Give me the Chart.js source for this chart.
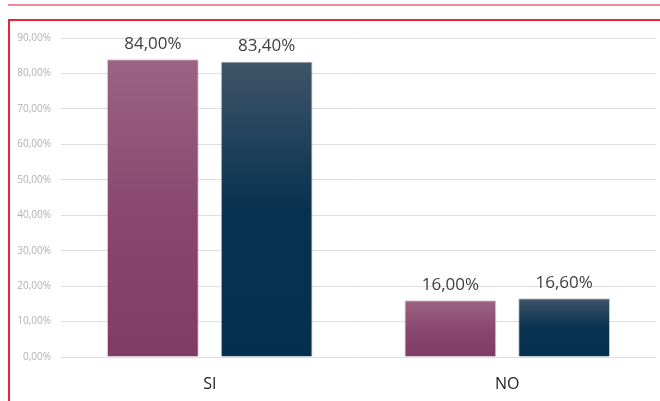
<!DOCTYPE html>
<html>
<head>
<meta charset="utf-8">
<script src="https://cdn.jsdelivr.net/npm/chart.js@4"></script>
<style>
  html, body { margin: 0; padding: 0; background: #fff; }
  #wrap { position: relative; width: 660px; height: 401px; overflow: hidden; }
  #topline { position: absolute; left: 8px; top: 4px; width: 652px; height: 2px; background: #ee8a98; }
  #frame { position: absolute; left: 8px; top: 19px; width: 660px; height: 400px;
           border-top: 2px solid #e8243c; border-left: 2px solid #e8243c; box-sizing: border-box; }
  canvas { position: absolute; left: 0; top: 0; }
</style>
</head>
<body>
<div id="wrap">
  <div id="topline"></div>
  <div id="frame"></div>
  <canvas id="c" width="660" height="401"></canvas>
</div>
<script>
// Categories and the two answer series (percent)
const categories = ['SI', 'NO'];
const seriesA = [84.00, 16.00];
const seriesB = [83.40, 16.60];
const tickValues = [0, 10, 20, 30, 40, 50, 60, 70, 80, 90];

const fmt = v => v.toFixed(2).replace('.', ',') + '%';

// Vertical gradient spanning each bar from its top to the baseline
function barGradient(top, mid, bottom) {
  return ctx => {
    const chart = ctx.chart;
    const ys = chart.scales.y;
    if (!ys || !ctx.parsed) return bottom;
    const yTop = ys.getPixelForValue(ctx.parsed.y);
    const yBase = ys.getPixelForValue(0);
    if (!isFinite(yTop) || !isFinite(yBase) || yTop === yBase) return bottom;
    const g = chart.ctx.createLinearGradient(0, yTop, 0, yBase);
    g.addColorStop(0, top);
    g.addColorStop(0.5, mid);
    g.addColorStop(1, bottom);
    return g;
  };
}

// Value labels above every bar
const valueLabels = {
  id: 'valueLabels',
  afterDatasetsDraw(chart) {
    const c = chart.ctx;
    c.save();
    c.font = '17px "Open Sans", sans-serif';
    c.fillStyle = '#404040';
    c.textAlign = 'center';
    c.textBaseline = 'alphabetic';
    chart.data.datasets.forEach((ds, i) => {
      chart.getDatasetMeta(i).data.forEach((bar, j) => {
        c.fillText(fmt(ds.data[j]), bar.x, bar.y - 10);
      });
    });
    c.restore();
  }
};

new Chart(document.getElementById('c'), {
  type: 'bar',
  data: {
    labels: categories,
    datasets: [
      {
        data: seriesA,
        backgroundColor: barGradient('#9c6383', '#8a4870', '#7f3c65'),
        borderColor: 'rgba(90,60,80,0.25)',
        borderWidth: 1,
        categoryPercentage: 0.765,
        barPercentage: 0.807
      },
      {
        data: seriesB,
        backgroundColor: barGradient('#405569', '#07324f', '#04304f'),
        borderColor: 'rgba(40,50,60,0.25)',
        borderWidth: 1,
        categoryPercentage: 0.765,
        barPercentage: 0.807
      }
    ]
  },
  options: {
    responsive: false,
    animation: false,
    layout: { padding: { top: 38, right: 4, left: 0, bottom: 0 } },
    plugins: { legend: { display: false }, tooltip: { enabled: false } },
    scales: {
      x: {
        grid: { display: false, drawTicks: false },
        border: { display: false },
        ticks: { padding: 18, color: '#222', font: { family: '"Open Sans", sans-serif', size: 16 } },
        afterFit: s => { s.height = 44; }
      },
      y: {
        min: 0, max: 90,
        afterBuildTicks: s => { s.ticks = tickValues.map(v => ({ value: v })); },
        grid: { color: '#dedede', lineWidth: 1, drawTicks: false },
        border: { display: false },
        ticks: {
          padding: 10,
          color: '#b0b0b0',
          font: { family: '"Open Sans", sans-serif', size: 10 },
          callback: v => fmt(v)
        },
        afterFit: s => { s.width = 61; }
      }
    }
  },
  plugins: [valueLabels]
});
</script>
</body>
</html>
